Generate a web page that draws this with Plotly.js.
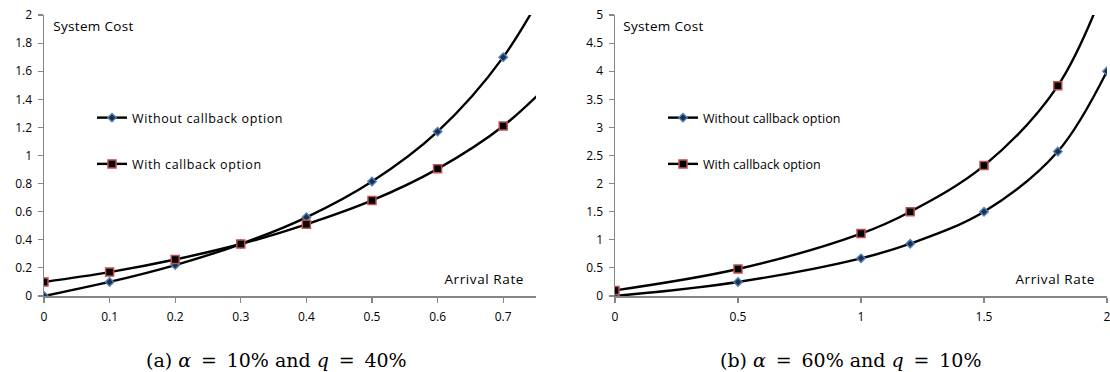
<!DOCTYPE html>
<html><head><meta charset="utf-8">
<script src="https://cdn.plot.ly/plotly-3.0.1.min.js"></script>
<style>
body{margin:0;background:#fff}#chart{width:1110px;height:372px}
.legendtext{letter-spacing:0.6px}
g.annotation[data-index="0"] text, g.annotation[data-index="1"] text{letter-spacing:0.3px}
g.annotation[data-index="2"] text, g.annotation[data-index="3"] text{letter-spacing:0.6px}
</style>
</head><body><div id="chart"></div>
<script>
// Chart (a): alpha=10%, q=40%
const xA = [0, 0.1, 0.2, 0.3, 0.4, 0.5, 0.6, 0.7, 0.8];
const withoutA = [0, 0.1, 0.22, 0.37, 0.56, 0.815, 1.17, 1.70, 2.5];
const withA = [0.1, 0.17, 0.26, 0.37, 0.51, 0.68, 0.905, 1.21, 1.65];
// Chart (b): alpha=60%, q=10%
const xB = [0, 0.5, 1, 1.2, 1.5, 1.8, 2];
const withoutB = [0, 0.25, 0.67, 0.93, 1.5, 2.57, 4.0];
const withB = [0.1, 0.48, 1.11, 1.5, 2.32, 3.74, 5.6];

const xTicksA = [0, 0.1, 0.2, 0.3, 0.4, 0.5, 0.6, 0.7];
const yTicksA = [0, 0.2, 0.4, 0.6, 0.8, 1, 1.2, 1.4, 1.6, 1.8, 2];
const xTicksB = [0, 0.5, 1, 1.5, 2];
const yTicksB = [0, 0.5, 1, 1.5, 2, 2.5, 3, 3.5, 4, 4.5, 5];

const nameWithout = 'Without callback option';
const nameWith = 'With callback option';
const FONT = 'Open Sans, Liberation Sans, sans-serif';
const SERIF = 'DejaVu Serif, Liberation Serif, serif';

const lineStyle = {color: '#000', width: 2.4, shape: 'spline', smoothing: 1};
const mWithout = {symbol: 'diamond', size: 6.5, color: '#1f2f4a', line: {color: '#4f81bd', width: 1.4}};
const mWith = {symbol: 'square', size: 8, color: '#000', line: {color: '#c0504d', width: 1.5}};

const traces = [
  {x: xA, y: withoutA, name: nameWithout, mode: 'lines+markers', line: lineStyle, marker: mWithout, xaxis: 'x', yaxis: 'y', legend: 'legend', legendgroup: 'a1'},
  {x: xA, y: withA, name: nameWith, mode: 'lines+markers', line: lineStyle, marker: mWith, xaxis: 'x', yaxis: 'y', legend: 'legend', legendgroup: 'a2'},
  {x: xB, y: withoutB, name: nameWithout, mode: 'lines+markers', line: lineStyle, marker: mWithout, xaxis: 'x2', yaxis: 'y2', legend: 'legend2', legendgroup: 'b1'},
  {x: xB, y: withB, name: nameWith, mode: 'lines+markers', line: lineStyle, marker: mWith, xaxis: 'x2', yaxis: 'y2', legend: 'legend2', legendgroup: 'b2'}
];

const axBase = {showgrid: false, zeroline: false, showline: true, linecolor: '#868686', linewidth: 1.5,
  ticks: 'outside', ticklen: 5, tickcolor: '#868686', tickwidth: 1.2, ticklabeloverflow: 'allow',
  tickfont: {family: FONT, size: 12, color: '#000'}, fixedrange: true};

const legBase = {font: {family: FONT, size: 12.5, color: '#000'}, bgcolor: 'rgba(0,0,0,0)',
  traceorder: 'grouped', tracegroupgap: 27, itemwidth: 30, yanchor: 'top', xanchor: 'left'};

const py = p => 1 - (p - 15) / 281;
const px = p => p / 1110;

const layout = {
  width: 1110, height: 372,
  margin: {l: 0, r: 0, t: 15, b: 76},
  paper_bgcolor: '#fff', plot_bgcolor: '#fff',
  xaxis: Object.assign({}, axBase, {domain: [px(44), px(536)], range: [0, 0.75], tickvals: xTicksA, anchor: 'y', ticklabelstandoff: 4}),
  yaxis: Object.assign({}, axBase, {domain: [0, 1], range: [0, 2], tickvals: yTicksA, anchor: 'x', ticklabelstandoff: 3}),
  xaxis2: Object.assign({}, axBase, {domain: [px(615), px(1107)], range: [0, 2], tickvals: xTicksB, anchor: 'y2', ticklabelstandoff: 4}),
  yaxis2: Object.assign({}, axBase, {domain: [0, 1], range: [0, 5], tickvals: yTicksB, anchor: 'x2', ticklabelstandoff: 3}),
  legend: Object.assign({}, legBase, {x: px(92), y: py(103)}),
  legend2: Object.assign({}, legBase, {x: px(663), y: py(103)}),
  annotations: [
    {text: 'System Cost', xref: 'paper', yref: 'paper', x: px(53), y: py(26), xanchor: 'left', yanchor: 'middle', showarrow: false, font: {family: FONT, size: 13.5, color: '#000'}},
    {text: 'System Cost', xref: 'paper', yref: 'paper', x: px(623), y: py(26), xanchor: 'left', yanchor: 'middle', showarrow: false, font: {family: FONT, size: 13.5, color: '#000'}},
    {text: 'Arrival Rate', xref: 'paper', yref: 'paper', x: px(446), y: py(279), xanchor: 'left', yanchor: 'middle', showarrow: false, font: {family: FONT, size: 13.5, color: '#000'}},
    {text: 'Arrival Rate', xref: 'paper', yref: 'paper', x: px(1017), y: py(279), xanchor: 'left', yanchor: 'middle', showarrow: false, font: {family: FONT, size: 13.5, color: '#000'}},
    {text: '(a) <i>α</i> &#8201;= &#8201;10% and <i>q</i> &#8201;= &#8201;40%', xref: 'paper', yref: 'paper', x: px(276), y: py(360), xanchor: 'center', yanchor: 'middle', showarrow: false, font: {family: SERIF, size: 19, color: '#000'}},
    {text: '(b) <i>α</i> &#8201;= &#8201;60% and <i>q</i> &#8201;= &#8201;10%', xref: 'paper', yref: 'paper', x: px(851), y: py(360), xanchor: 'center', yanchor: 'middle', showarrow: false, font: {family: SERIF, size: 19, color: '#000'}}
  ]
};

Plotly.newPlot('chart', traces, layout, {displayModeBar: false, staticPlot: true});
</script></body></html>
